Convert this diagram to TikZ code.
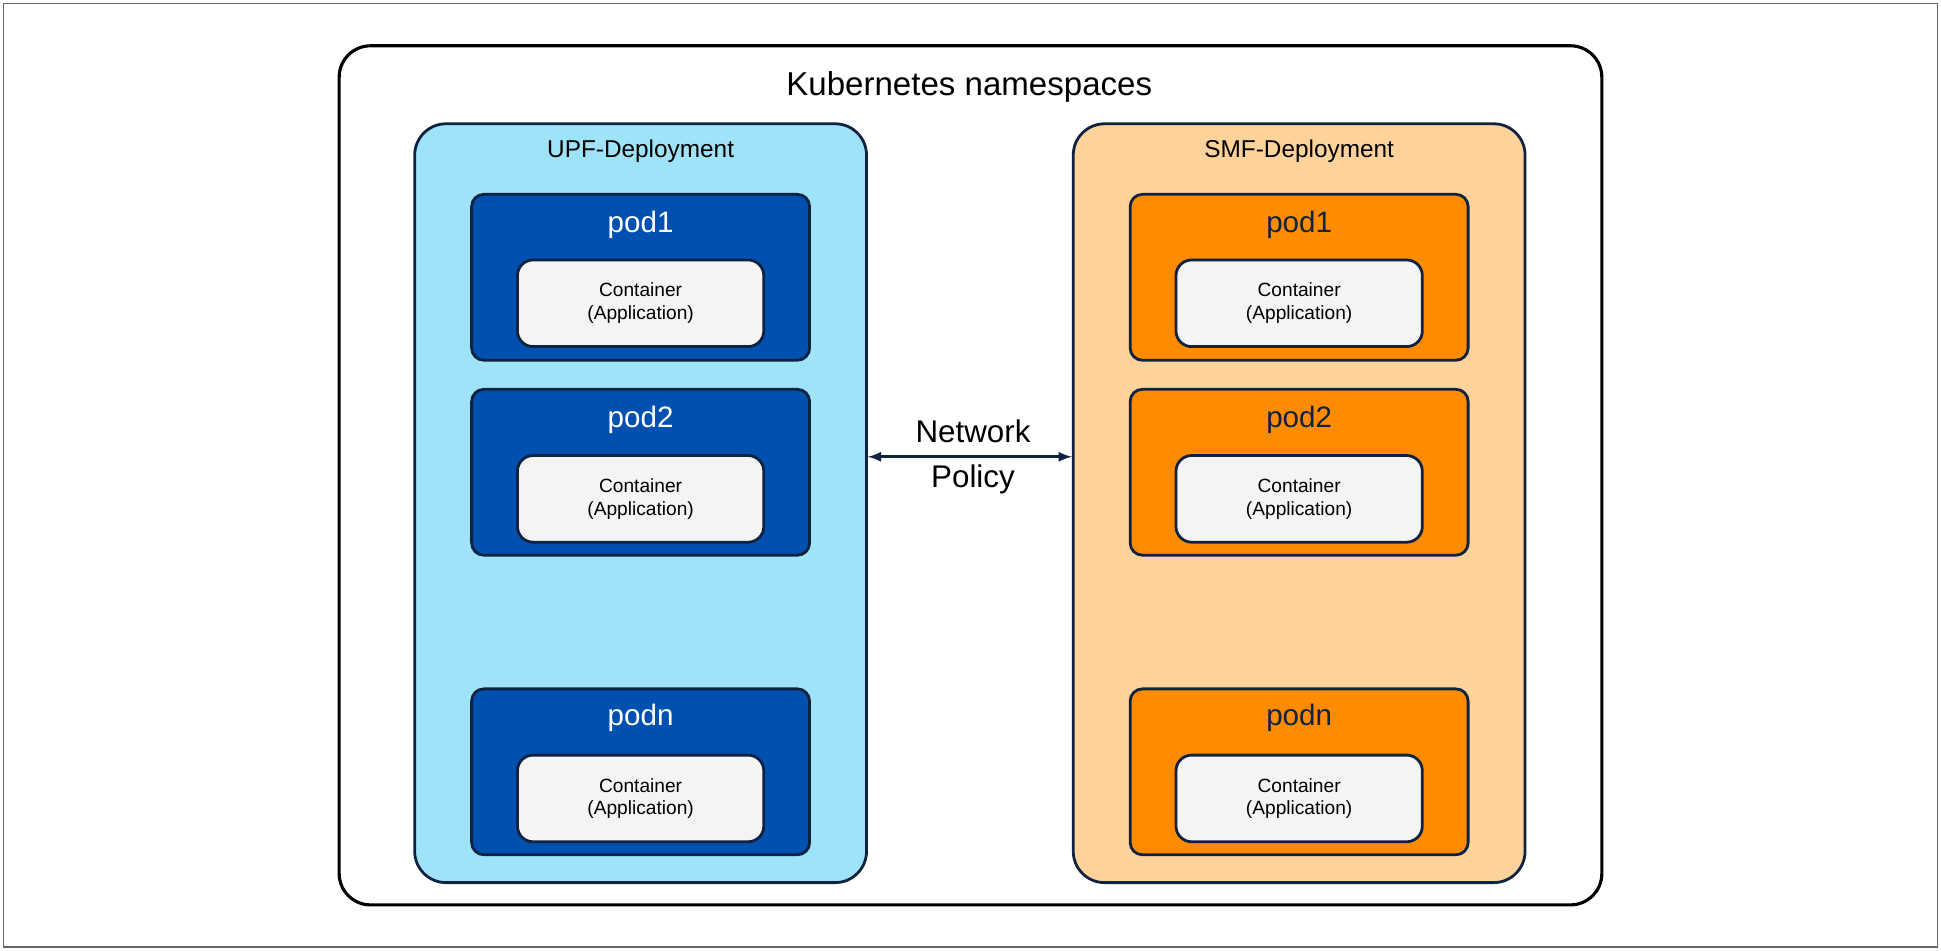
\documentclass[tikz,border=0pt]{standalone}
\usepackage{fontspec}
\setmainfont{Liberation Sans}
\usetikzlibrary{positioning}
\definecolor{upfbg}{HTML}{9EE3F7}
\definecolor{smfbg}{HTML}{FDD39B}
\definecolor{upfpod}{HTML}{0050AF}
\definecolor{smfpod}{HTML}{FF8C00}
\definecolor{edge}{HTML}{0F2240}
\definecolor{boxfill}{HTML}{F4F4F4}
\tikzset{
  deploy/.style={draw=edge,line width=1.6pt,rounded corners=18pt,minimum width=365*0.025cm,minimum height=613*0.025cm,inner sep=0pt},
  pod/.style={draw=edge,line width=1.6pt,rounded corners=7pt,minimum width=273*0.025cm,minimum height=134*0.025cm,inner sep=0pt},
  box/.style={draw=edge,line width=1.6pt,fill=boxfill,rounded corners=9pt,minimum width=199*0.025cm,minimum height=70*0.025cm,align=center,font=\fontsize{11}{13}\selectfont},
  podlabel/.style={font=\fontsize{17}{20}\selectfont},
}
\begin{document}
\begin{tikzpicture}[x=0.025cm,y=-0.025cm]
  \useasboundingbox (0,0) rectangle (1568,768);
  %frame
  \draw[black!60,line width=0.8pt] (3,3) rectangle (1565,765);
  \node[draw,line width=1.8pt,rounded corners=18pt,minimum width=1020*0.025cm,minimum height=694*0.025cm] (ns) at (784,384) {};
  \node[font=\fontsize{19}{22}\selectfont] (nstitle) at (783,70) {Kubernetes namespaces};
  %deployments
  \node[deploy,fill=upfbg] (upf) at (517.5,406.5) {};
  \node[font=\fontsize{14}{16}\selectfont] at (517.5,122) {UPF-Deployment};
  \node[deploy,fill=smfbg] (smf) at (1049.5,406.5) {};
  \node[font=\fontsize{14}{16}\selectfont] at (1049.5,122) {SMF-Deployment};
  %pods
  \foreach \n/\y/\ty/\cy in {1/224/182/245, 2/381.5/339/403, n/623.5/580/645}{
    \node[pod,fill=upfpod] (upfpod\n) at (517.5,\y) {};
    \node[podlabel,text=white] at (517.5,\ty) {pod\n};
    \node[box] (upfbox\n) at (517.5,\cy) {Container\\(Application)};
    \node[pod,fill=smfpod] (smfpod\n) at (1049.5,\y) {};
    \node[podlabel,text=edge] at (1049.5,\ty) {pod\n};
    \node[box] (smfbox\n) at (1049.5,\cy) {Container\\(Application)};
  }
  %policy
  \draw[edge,line width=1.6pt,<->,>={latex}] (upf.east |- 0,369) -- (smf.west |- 0,369);
  \node[align=center,font=\fontsize{18}{26}\selectfont] (policy) at (786,369) {Network\\Policy};
\end{tikzpicture}
\end{document}
